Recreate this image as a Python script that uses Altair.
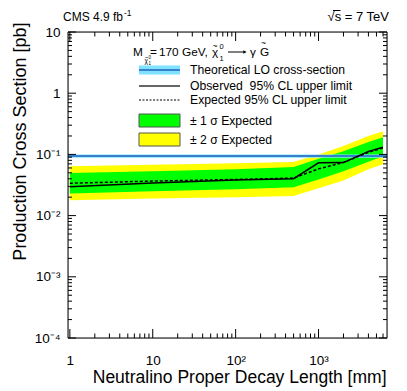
import altair as alt
import pandas as pd

# ---------------- data ----------------
decay_length = [1, 10, 100, 500, 1000, 2000, 4000, 6000]
observed     = [0.0296, 0.034, 0.038, 0.040, 0.073, 0.0735, 0.112, 0.131]
expected     = [0.0338, 0.0366, 0.039, 0.041, 0.058, 0.074, 0.108, 0.128]
sig1_lo      = [0.023, 0.025, 0.027, 0.029, 0.039, 0.053, 0.076, 0.093]
sig1_hi      = [0.0495, 0.053, 0.057, 0.062, 0.085, 0.113, 0.16, 0.19]
sig2_lo      = [0.0178, 0.019, 0.020, 0.021, 0.028, 0.0376, 0.057, 0.069]
sig2_hi      = [0.064, 0.068, 0.072, 0.075, 0.10, 0.137, 0.20, 0.24]

theory_x      = [0.95, 6700]
theory_center = [0.094, 0.094]
theory_lo     = [0.0883, 0.0883]
theory_hi     = [0.100, 0.100]

x_label_vals = [1, 10, 100, 1000]
y_label_vals = [10, 1, 0.1, 0.01, 0.001, 0.0001]

legend_labels = ["Theoretical LO cross-section",
                 "Observed\u00a0 95% CL upper limit",
                 "Expected 95% CL upper limit",
                 "± 1 σ Expected",
                 "± 2 σ Expected"]

# ---------------- layout ----------------
W, H = 319, 306
FONT = "Liberation Sans"
xs = alt.Scale(type="log", domain=[0.95, 6700], nice=False)
ys = alt.Scale(type="log", domain=[1e-4, 10], nice=False)

df = pd.DataFrame({"x": decay_length, "obs": observed, "exp": expected,
                   "s1lo": sig1_lo, "s1hi": sig1_hi, "s2lo": sig2_lo, "s2hi": sig2_hi})
dth = pd.DataFrame({"x": theory_x, "c": theory_center, "lo": theory_lo, "hi": theory_hi})

x_axis = alt.Axis(values=x_label_vals, grid=False, ticks=False, tickSize=0, domain=False,
                  labelExpr="datum.value == 1 ? '1' : datum.value == 10 ? '10' : datum.value == 100 ? '10²' : '10³'",
                  labelFont=FONT, labelFontSize=13.5, labelColor="black",
                  labelBaseline="alphabetic", labelPadding=26, labelFlush=False,
                  title="Neutralino Proper Decay Length [mm]", titleFont=FONT, titleFontSize=17.5,
                  titleFontWeight="normal", titleColor="black", titleAnchor="end", titleAlign="right",
                  titleBaseline="alphabetic", titleX=W - 1, titleY=44)
y_axis = alt.Axis(values=y_label_vals, grid=False, ticks=False, tickSize=0, domain=False,
                  labelExpr="datum.value == 10 ? '10' : datum.value == 1 ? '1' : '10' + ['⁻⁴','⁻³','⁻²','⁻¹'][round(log(datum.value)/LN10) + 4]",
                  labelFont=FONT, labelFontSize=13.5, labelColor="black",
                  labelBaseline="middle", labelPadding=8, labelFlush=False,
                  title="Production Cross Section [pb]", titleFont=FONT, titleFontSize=18,
                  titleFontWeight="normal", titleColor="black", titleAnchor="end", titleAlign="right",
                  titleBaseline="alphabetic", titleAngle=270, titleX=-43, titleY=-10)

base = alt.Chart(df)
band2 = base.mark_area(color="#ffff00", opacity=1).encode(
    x=alt.X("x:Q", scale=xs, axis=x_axis), y=alt.Y("s2lo:Q", scale=ys, axis=y_axis), y2="s2hi:Q")
band1 = base.mark_area(color="#00ff00", opacity=1).encode(
    x=alt.X("x:Q", scale=xs, axis=None), y=alt.Y("s1lo:Q", scale=ys, axis=None), y2="s1hi:Q")
thband = alt.Chart(dth).mark_area(color="#7fe3ff", opacity=1).encode(
    x=alt.X("x:Q", scale=xs, axis=None), y=alt.Y("lo:Q", scale=ys, axis=None), y2="hi:Q")
thline = alt.Chart(dth).mark_line(color="#1f5fc0", strokeWidth=1.5).encode(
    x=alt.X("x:Q", scale=xs, axis=None), y=alt.Y("c:Q", scale=ys, axis=None))
expline = base.mark_line(color="black", strokeWidth=1.5, strokeDash=[3, 2]).encode(
    x=alt.X("x:Q", scale=xs, axis=None), y=alt.Y("exp:Q", scale=ys, axis=None))
obsline = base.mark_line(color="black", strokeWidth=1.5).encode(
    x=alt.X("x:Q", scale=xs, axis=None), y=alt.Y("obs:Q", scale=ys, axis=None))

# ---------------- ticks (ROOT style, inward on all sides) ----------------
x_major = [1, 10, 100, 1000]
x_minor = [k * 10 ** e for e in range(0, 4) for k in range(2, 10) if k * 10 ** e <= 6700]
y_major = [1e-4, 1e-3, 1e-2, 1e-1, 1, 10]
y_minor = [k * 10.0 ** e for e in range(-4, 1) for k in range(2, 10)]

def xticks(vals, ln):
    d = alt.Chart(pd.DataFrame({"v": vals}))
    enc = dict(x=alt.X("v:Q", scale=xs, axis=None))
    b = d.mark_rule(color="black", strokeWidth=1).encode(y=alt.value(H), y2=alt.value(H - ln), **enc)
    t = d.mark_rule(color="black", strokeWidth=1).encode(y=alt.value(0), y2=alt.value(ln), **enc)
    return [b, t]

def yticks(vals, ln):
    d = alt.Chart(pd.DataFrame({"v": vals}))
    enc = dict(y=alt.Y("v:Q", scale=ys, axis=None))
    l = d.mark_rule(color="black", strokeWidth=1).encode(x=alt.value(0), x2=alt.value(ln), **enc)
    r = d.mark_rule(color="black", strokeWidth=1).encode(x=alt.value(W), x2=alt.value(W - ln), **enc)
    return [l, r]

ticks = xticks(x_major, 9) + xticks(x_minor, 4.5) + yticks(y_major, 8) + yticks(y_minor, 4)

one = alt.Chart(pd.DataFrame({"a": [0]}))
frame = one.mark_rect(fillOpacity=0, stroke="black", strokeWidth=1).encode(
    x=alt.value(0), x2=alt.value(W), y=alt.value(0), y2=alt.value(H))

# ---------------- legend ----------------
LX0, LX1, TX = 71, 112, 122
rows = [38, 54, 68, 88.5, 107.5]  # centers relative to plot top

def txt(s, x, y, size=12, align="left", color="black", baseline="alphabetic"):
    return one.mark_text(text=s, font=FONT, fontSize=size, align=align, baseline=baseline,
                         color=color).encode(x=alt.value(x), y=alt.value(y))

leg = []
leg.append(one.mark_rect(color="#7fe3ff").encode(x=alt.value(LX0), x2=alt.value(LX1),
                                                   y=alt.value(rows[0] - 4.5), y2=alt.value(rows[0] + 4.5)))
leg.append(one.mark_rule(color="#1f5fc0", strokeWidth=1.5).encode(x=alt.value(LX0), x2=alt.value(LX1),
                                                                   y=alt.value(rows[0])))
leg.append(one.mark_rule(color="#333333", strokeWidth=1.5).encode(x=alt.value(LX0), x2=alt.value(LX1),
                                                                   y=alt.value(rows[1])))
leg.append(one.mark_rule(color="black", strokeWidth=1, strokeDash=[2, 1.5]).encode(
    x=alt.value(LX0), x2=alt.value(LX1), y=alt.value(rows[2])))
leg.append(one.mark_rect(color="#00ff00", stroke="#555555", strokeWidth=1).encode(
    x=alt.value(LX0), x2=alt.value(LX1), y=alt.value(rows[3] - 6.5), y2=alt.value(rows[3] + 6.5)))
leg.append(one.mark_rect(color="#ffff00", stroke="#555555", strokeWidth=1).encode(
    x=alt.value(LX0), x2=alt.value(LX1), y=alt.value(rows[4] - 6.5), y2=alt.value(rows[4] + 6.5)))
for lab, r in zip(legend_labels, rows):
    leg.append(txt(lab, TX, r + 4.3, 12.2))

# header  M_chi = 170 GeV,  chi -> gamma G~
HS = 11.8
leg += [txt("M", 65, 24, HS),
        txt("χ", 76.5, 31, 6.5), txt("~", 77, 26.5, 5.5), txt("0", 80.5, 27, 4.5), txt("1", 80.5, 33, 4.5),
        txt("=", 82, 24, HS), txt("170 GeV,", 91, 24, HS),
        txt("χ", 144, 24, HS), txt("~", 144.5, 17, 8.5), txt("0", 151.5, 17, 7.5), txt("1", 151.5, 28.5, 7.5),
        txt("γ", 182, 24, HS), txt("G", 192, 24, HS), txt("~", 193, 14, 8.5)]
# arrow drawn as a rule with a triangular head
leg.append(one.mark_rule(color="black", strokeWidth=1).encode(
    x=alt.value(160), x2=alt.value(176), y=alt.value(20)))
leg.append(one.mark_point(shape="triangle-right", filled=True, color="black", size=14, opacity=1).encode(
    x=alt.value(177), y=alt.value(20)))

# top labels
tops = [txt("CMS 4.9 fb", -5, -11, 12), txt("-1", 56, -16.5, 8.5),
        txt("√s = 7 TeV", 321, -11, 13, align="right")]
tops.append(one.mark_rule(color="black", strokeWidth=1).encode(
    x=alt.value(265), x2=alt.value(272.5), y=alt.value(-21.5)))

chart = alt.layer(band2, band1, thband, thline, expline, obsline, *ticks, frame, *leg, *tops).properties(
    width=W, height=H,
    autosize=alt.AutoSizeParams(type="none"),
    padding={"left": 60, "top": 24, "right": 12, "bottom": 53},
).resolve_axis(x="independent", y="independent").configure_view(stroke=None).configure(background="white")

chart.save("out.html", embed_options={"renderer": "svg", "actions": False})
